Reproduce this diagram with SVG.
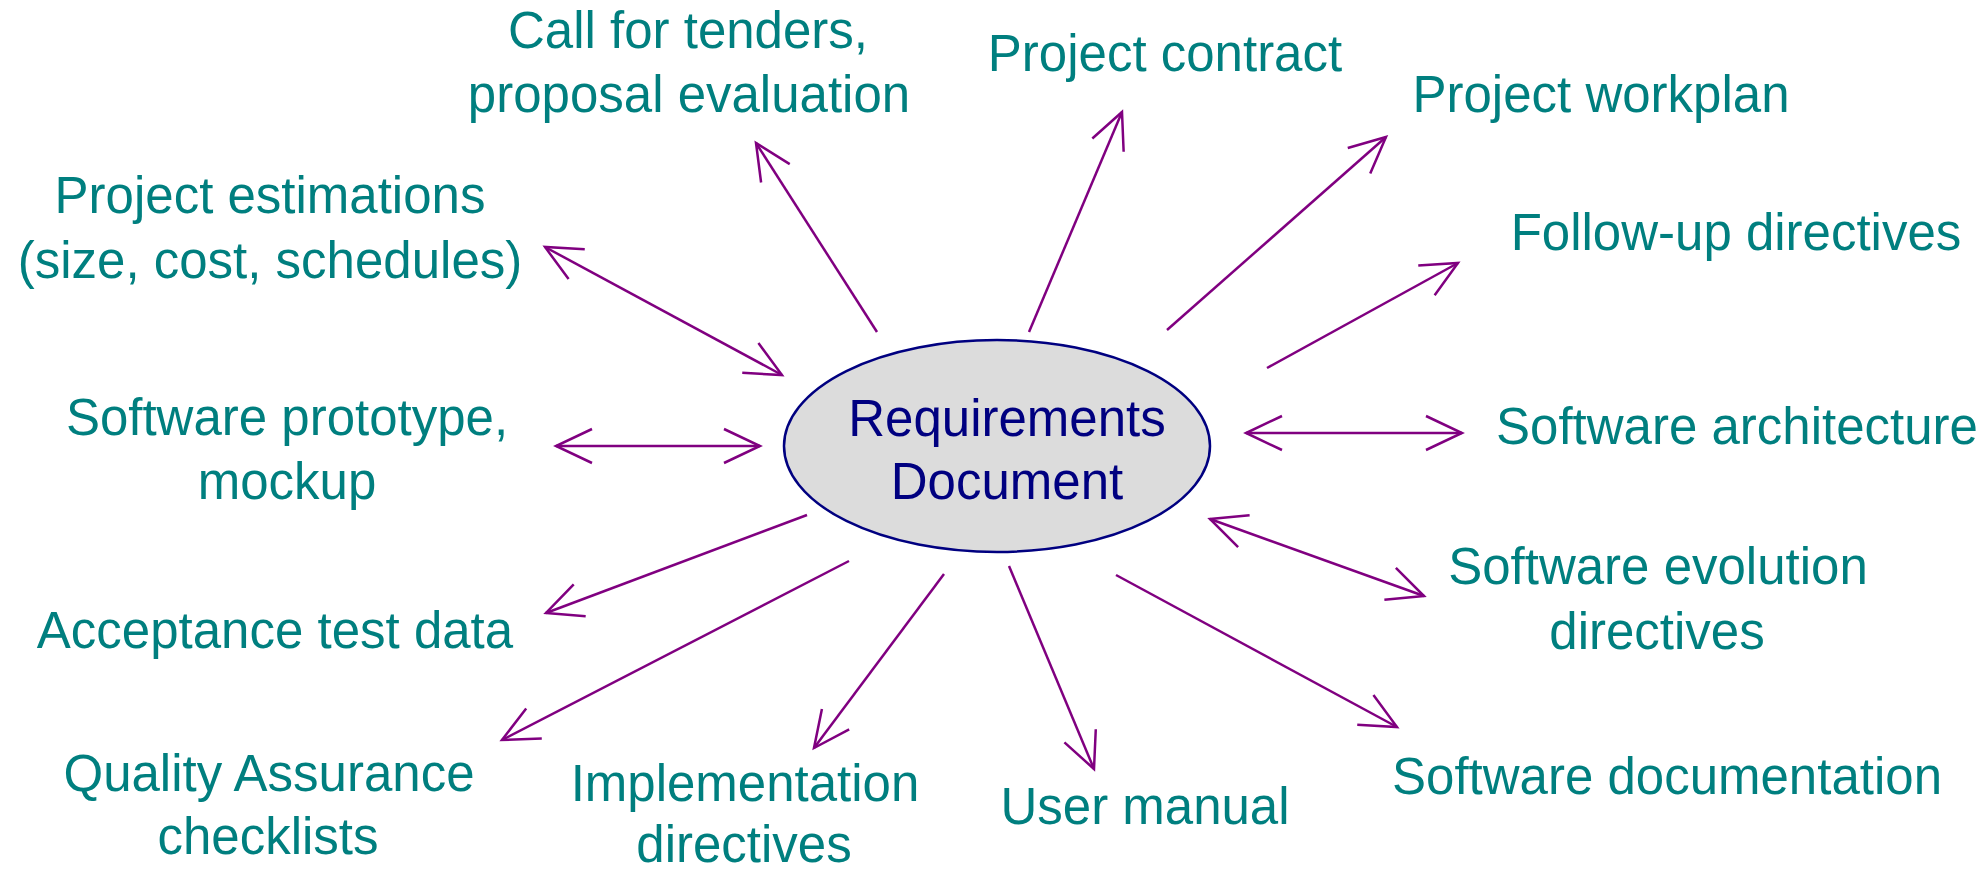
<svg xmlns="http://www.w3.org/2000/svg" width="1986" height="873" viewBox="0 0 1986 873">
<defs>
<style>
.lbl{font-family:"Liberation Sans",Arial,sans-serif;font-size:51px;fill:#007f7f;text-anchor:middle}
.ctr{font-family:"Liberation Sans",Arial,sans-serif;font-size:51px;fill:#000080;text-anchor:middle}
.cn{stroke:#800080;stroke-width:2.5;fill:none}
</style>
<marker id="ah" markerUnits="userSpaceOnUse" markerWidth="90" markerHeight="90" viewBox="-45 -45 90 90" refX="0" refY="0" orient="auto-start-reverse" overflow="visible">
<path d="M-36,-17 L0,0 L-36,17" fill="none" stroke="#800080" stroke-width="2.5"/>
</marker>
</defs>
<rect width="1986" height="873" fill="#ffffff"/>
<g id="connectors">
<line class="cn" x1="877" y1="332" x2="756" y2="143" marker-end="url(#ah)"/>
<line class="cn" x1="1029" y1="332" x2="1122" y2="112" marker-end="url(#ah)"/>
<line class="cn" x1="1167" y1="330" x2="1386" y2="137" marker-end="url(#ah)"/>
<line class="cn" x1="1267" y1="368" x2="1458" y2="263" marker-end="url(#ah)"/>
<line class="cn" x1="1246" y1="433" x2="1462" y2="433" marker-start="url(#ah)" marker-end="url(#ah)"/>
<line class="cn" x1="1210" y1="519" x2="1424" y2="596" marker-start="url(#ah)" marker-end="url(#ah)"/>
<line class="cn" x1="1116" y1="575" x2="1397" y2="727" marker-end="url(#ah)"/>
<line class="cn" x1="1009" y1="566" x2="1094" y2="769" marker-end="url(#ah)"/>
<line class="cn" x1="944" y1="574" x2="814" y2="748" marker-end="url(#ah)"/>
<line class="cn" x1="849" y1="561" x2="502" y2="740" marker-end="url(#ah)"/>
<line class="cn" x1="807" y1="515" x2="546" y2="613" marker-end="url(#ah)"/>
<line class="cn" x1="760" y1="446" x2="556" y2="446" marker-start="url(#ah)" marker-end="url(#ah)"/>
<line class="cn" x1="782" y1="375" x2="545" y2="247" marker-start="url(#ah)" marker-end="url(#ah)"/>
</g>
<g id="requirements">
<ellipse cx="997" cy="446" rx="213" ry="106" fill="#dcdcdc" stroke="#000080" stroke-width="2.5"/>
<text class="ctr" x="1007" y="436">Requirements</text>
<text class="ctr" x="1007" y="499">Document</text>
</g>
<g id="tenders"><text class="lbl" x="688" y="48">Call for tenders,</text><text class="lbl" x="689" y="112">proposal evaluation</text></g>
<g id="contract"><text class="lbl" x="1165" y="71">Project contract</text></g>
<g id="workplan"><text class="lbl" x="1601" y="112">Project workplan</text></g>
<g id="followup"><text class="lbl" x="1736" y="250">Follow-up directives</text></g>
<g id="architecture"><text class="lbl" x="1737" y="444">Software architecture</text></g>
<g id="evolution"><text class="lbl" x="1658" y="584">Software evolution</text><text class="lbl" x="1657" y="649">directives</text></g>
<g id="documentation"><text class="lbl" x="1667" y="794">Software documentation</text></g>
<g id="usermanual"><text class="lbl" x="1145" y="824">User manual</text></g>
<g id="implementation"><text class="lbl" x="745" y="801">Implementation</text><text class="lbl" x="744" y="862">directives</text></g>
<g id="qa"><text class="lbl" x="269" y="791">Quality Assurance</text><text class="lbl" x="268" y="854">checklists</text></g>
<g id="acceptance"><text class="lbl" x="275" y="648">Acceptance test data</text></g>
<g id="prototype"><text class="lbl" x="287" y="435">Software prototype,</text><text class="lbl" x="287" y="499">mockup</text></g>
<g id="estimations"><text class="lbl" x="270" y="213">Project estimations</text><text class="lbl" x="270" y="278">(size, cost, schedules)</text></g>
</svg>
